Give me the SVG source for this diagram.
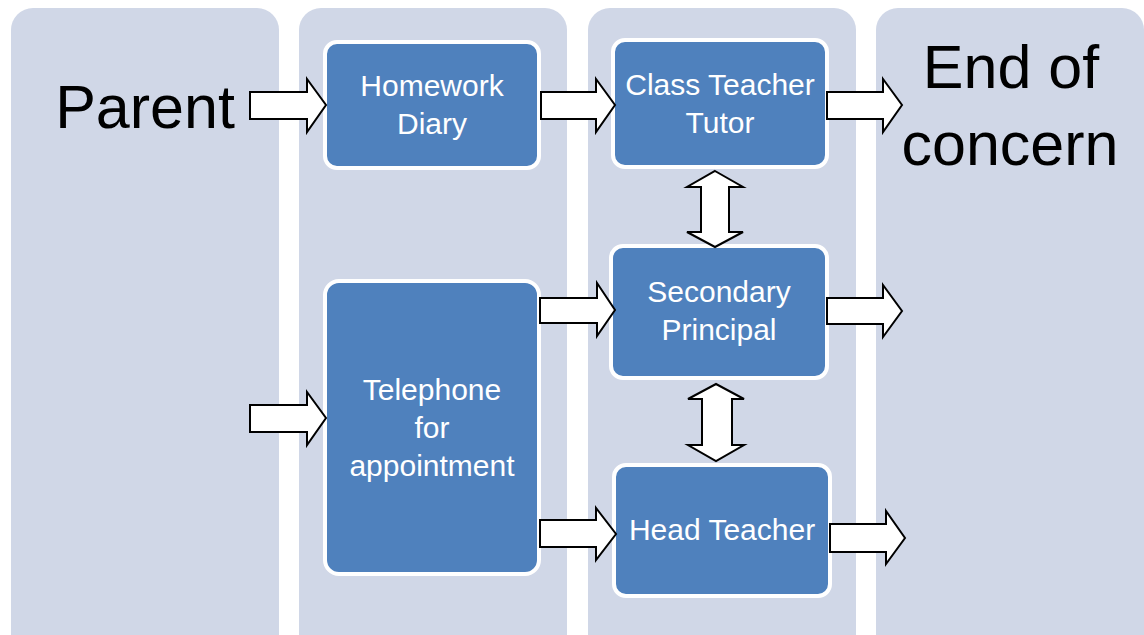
<svg xmlns="http://www.w3.org/2000/svg" width="1144" height="635" viewBox="0 0 1144 635">
<style>
.col{fill:#D0D7E7}
.box{fill:#4F81BD;stroke:#FFFFFF;stroke-width:4}
.arr{fill:#FFFFFF;stroke:#000000;stroke-width:2;stroke-linejoin:miter}
.t{font-family:"Liberation Sans",Arial,sans-serif;font-size:30px;fill:#FFFFFF;text-anchor:middle}
.big{font-family:"Liberation Sans",Arial,sans-serif;font-size:61px;fill:#000000;text-anchor:middle}
</style>
<rect width="1144" height="635" fill="#FFFFFF"/>
<g id="col-parent"><rect class="col" x="11" y="8" width="268" height="660" rx="22"/><text class="big" x="145" y="128">Parent</text></g>
<g id="col-2"><rect class="col" x="299" y="8" width="268" height="660" rx="22"/></g>
<g id="col-3"><rect class="col" x="588" y="8" width="268" height="660" rx="22"/></g>
<g id="col-end"><rect class="col" x="876" y="8" width="268" height="660" rx="22"/><text class="big" x="1011" y="88">End of</text><text class="big" x="1010" y="165">concern</text></g>
<g id="homework"><rect class="box" x="325" y="42" width="214" height="126" rx="12"/><text class="t" x="432" y="96">Homework</text><text class="t" x="432" y="134">Diary</text></g>
<g id="classteacher"><rect class="box" x="613" y="40" width="214" height="127" rx="12"/><text class="t" x="720" y="95">Class Teacher</text><text class="t" x="720" y="133">Tutor</text></g>
<g id="secondary"><rect class="box" x="611" y="246" width="216" height="132" rx="12"/><text class="t" x="719" y="302">Secondary</text><text class="t" x="719" y="340">Principal</text></g>
<g id="headteacher"><rect class="box" x="614" y="465" width="216" height="131" rx="12"/><text class="t" x="722" y="540">Head Teacher</text></g>
<g id="telephone"><rect class="box" x="325" y="281" width="214" height="293" rx="14"/><text class="t" x="432" y="400">Telephone</text><text class="t" x="432" y="438">for</text><text class="t" x="432" y="476">appointment</text></g>
<g id="connectors">
<path class="arr" d="M250,92 H307 V79 L326,105 L307,132 V119 H250 Z"/>
<path class="arr" d="M541,92 H596 V79 L615,105 L596,132 V119 H541 Z"/>
<path class="arr" d="M827,92 H883 V79 L902,105 L883,132 V119 H827 Z"/>
<path class="arr" d="M250,405 H307 V392 L326,418 L307,445 V432 H250 Z"/>
<path class="arr" d="M540,298 H597 V283 L615,310 L597,336 V323 H540 Z"/>
<path class="arr" d="M827,298 H883 V285 L902,311 L883,337 V324 H827 Z"/>
<path class="arr" d="M540,520 H596 V508 L616,534 L596,560 V547 H540 Z"/>
<path class="arr" d="M830,524 H886 V511 L905,538 L886,564 V552 H830 Z"/>
<path class="arr" d="M715,171 L743,187 H729 V232 H743 L715,247 L687,232 H701 V187 H687 Z"/>
<path class="arr" d="M716,384 L744,399 H732 V445 H744 L716,461 L688,445 H702 V399 H688 Z"/>
</g>
</svg>
